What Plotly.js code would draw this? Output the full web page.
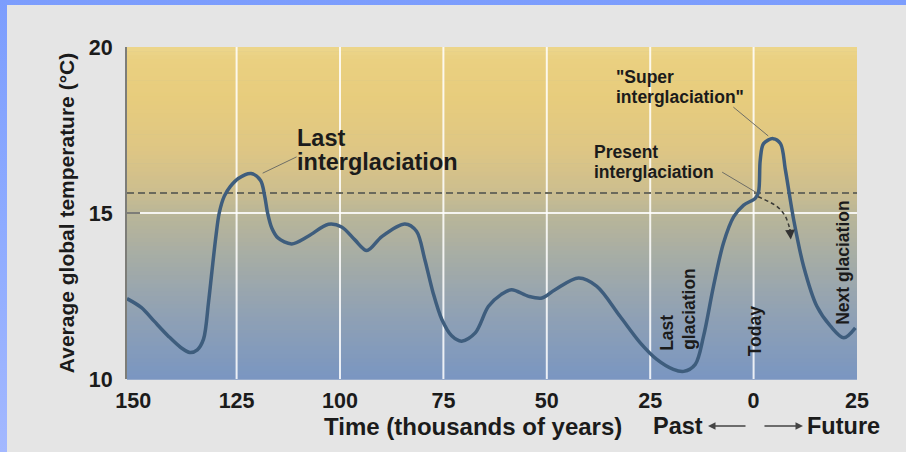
<!DOCTYPE html>
<html>
<head>
<meta charset="utf-8">
<script src="https://cdn.plot.ly/plotly-3.0.1.min.js"></script>
<style>
  html, body { margin: 0; padding: 0; }
  body { width: 906px; height: 452px; position: relative; overflow: hidden;
         background: linear-gradient(to bottom, #7c9dfd 0%, #8eabff 50%, #a3b8ff 100%); }
  #chart { position: absolute; left: 7px; top: 5px; width: 899px; height: 447px; background: #e5e5e5; }
</style>
</head>
<body>
<div id="chart"></div>
<script>
// ---- data (time in thousands of years; negative = past, positive = future) ----
const time = [-151.5, -148, -145, -141.5, -138.5, -136.3, -134.5, -133, -131.8, -131, -130, -129.2, -128, -126.5,
  -124.6, -121.5, -119.2, -118.2, -117.5, -116.5, -115, -111.7, -107.7, -102.8, -99.6, -96.4, -93.5, -89.9,
  -84.3, -81.5, -79.5, -77.5, -75.4, -73, -70.6, -67.3, -64.1, -61, -58.5, -54.4, -51.2, -48, -42.3, -37.9,
  -32.3, -27.4, -23.4, -19.4, -16.9, -14.1, -12.1, -9.7, -7.3, -4.8, -2.4, 0.4, 1.2, 1.6, 2.4, 4.7, 6.5, 7.7,
  9.7, 12.1, 15.3, 18.6, 21.8, 24.6];
const temp = [12.42, 12.15, 11.75, 11.29, 10.95, 10.8, 10.88, 11.2, 12.3, 13.2, 14.3, 15.0, 15.5, 15.8,
  16.04, 16.19, 15.98, 15.5, 15.0, 14.55, 14.25, 14.07, 14.3, 14.66, 14.58, 14.19, 13.87, 14.29,
  14.67, 14.45, 13.6, 12.6, 11.8, 11.3, 11.14, 11.39, 12.19, 12.55, 12.69, 12.49, 12.44, 12.69, 13.04, 12.79,
  11.89, 11.09, 10.59, 10.29, 10.23, 10.44, 11.29, 12.79, 14.09, 14.89, 15.24, 15.44, 15.64, 16.59, 17.09, 17.24, 17.09, 16.29,
  14.79, 13.39, 12.19, 11.59, 11.24, 11.54];
// projected path for the present interglaciation (dashed arrow)
const projTime = [1.1, 5.7, 7.7, 8.9];
const projTemp = [15.49, 15.19, 14.89, 14.45];
const refTemp = 15.6;            // dashed reference level
const tickVals = [-150, -125, -100, -75, -50, -25, 0, 25];
const tickText = ["150", "125", "100", "75", "50", "25", "0", "25"];
const gridTimes = [-125, -100, -75, -50, -25, 0];
const yTicks = [10, 15, 20];

const FONT = "Liberation Sans, Arial, Helvetica, sans-serif";
const INK = "#1b1b1b";

// ---- background gradient (yellow top -> blue bottom) built as thin bands ----
const stops = [
  [0.00, [236, 214, 140]], [0.04, [234, 208, 128]], [0.16, [231, 204, 125]], [0.31, [222, 198, 132]], [0.43, [205, 190, 142]],
  [0.50, [186, 182, 152]], [0.64, [165, 172, 166]], [0.82, [142, 160, 181]], [1.00, [122, 150, 193]]
];
function colAt(f) {
  for (let i = 0; i < stops.length - 1; i++) {
    const [f0, c0] = stops[i], [f1, c1] = stops[i + 1];
    if (f >= f0 && f <= f1) {
      const t = (f - f0) / (f1 - f0);
      return "rgb(" + c0.map((v, k) => Math.round(v + (c1[k] - v) * t)).join(",") + ")";
    }
  }
  return "rgb(122,150,193)";
}
const shapes = [];
const N = 80;
for (let i = 0; i < N; i++) {
  const fTop = i / N, fBot = (i + 1) / N;
  shapes.push({type: "rect", xref: "x domain", yref: "y domain", x0: 0, x1: 1,
    y0: 1 - fBot - 0.002, y1: 1 - fTop, line: {width: 0}, fillcolor: colAt((fTop + fBot) / 2), layer: "below"});
}
gridTimes.forEach(t => shapes.push({type: "line", xref: "x", yref: "y domain", x0: t, x1: t, y0: 0, y1: 1,
  line: {color: "rgba(255,255,255,0.85)", width: 2}, layer: "below"}));
shapes.push({type: "line", xref: "x domain", yref: "y", x0: 0, x1: 1, y0: 15, y1: 15,
  line: {color: "rgba(255,255,255,0.85)", width: 2}, layer: "below"});
shapes.push({type: "line", xref: "x domain", yref: "y", x0: 0, x1: 1, y0: refTemp, y1: refTemp,
  line: {color: "#6b6a5c", width: 2, dash: "7px,4px"}, layer: "below"});
// leader lines
const leader = (x0, y0, x1, y1) => shapes.push({type: "line", xref: "x", yref: "y", x0, y0, x1, y1,
  line: {color: "#6e6e66", width: 1}, layer: "above"});
leader(-110.5, 16.69, -118.7, 16.2);
leader(-4.9, 18.19, 3.55, 17.32);
leader(-7.6, 16.23, 0.9, 15.6);

const txt = (text, x, y, size, opts) => Object.assign({text, x, y, xref: "x", yref: "y", showarrow: false,
  font: {family: FONT, size, color: INK, weight: 700}, xanchor: "left", yanchor: "middle"}, opts || {});

const annotations = [
  txt("Last", -111.0, 17.27, 23.5),
  txt("interglaciation", -111.0, 16.55, 23.5),
  txt("\"Super", -33.7, 19.1, 17.5),
  txt("interglaciation\"", -33.7, 18.5, 17.5),
  txt("Present", -39.0, 16.85, 17.5),
  txt("interglaciation", -39.0, 16.25, 17.5),
  txt("Last", -21.1, 11.40, 17.5, {textangle: -90, xanchor: "center"}),
  txt("glaciation", -15.8, 12.12, 17.5, {textangle: -90, xanchor: "center"}),
  txt("Today", 0.2, 11.45, 17.5, {textangle: -90, xanchor: "center"}),
  txt("Next glaciation", 21.7, 13.51, 17.5, {textangle: -90, xanchor: "center"}),
  // arrowhead of the projected path
  {x: 9.0, y: 14.2, xref: "x", yref: "y", text: "", showarrow: true, ax: -1, ay: -12,
   arrowhead: 2, arrowsize: 1.3, arrowwidth: 1.5, arrowcolor: "#333", standoff: 0},
  // x-axis title (offset left of centre, as in the original)
  {text: "Time (thousands of years)", x: 0.4733, y: -0.1416, xref: "paper", yref: "paper", showarrow: false,
   xanchor: "center", yanchor: "middle", font: {family: FONT, size: 24, color: INK, weight: 700}},
  // Past / Future
  {text: "Past", x: 0.7918, y: -0.1416, xref: "paper", yref: "paper", showarrow: false, xanchor: "right", yanchor: "middle",
   font: {family: FONT, size: 23.5, color: INK, weight: 700}},
  {text: "Future", x: 0.9288, y: -0.1416, xref: "paper", yref: "paper", showarrow: false, xanchor: "left", yanchor: "middle",
   font: {family: FONT, size: 23.5, color: INK, weight: 700}},
  {text: "", x: 0.7959, y: -0.1416, xref: "paper", yref: "paper", showarrow: true, ax: 39, ay: 0,
   arrowhead: 2, arrowsize: 1, arrowwidth: 1.5, arrowcolor: "#444", standoff: 0},
  {text: "", x: 0.926, y: -0.1416, xref: "paper", yref: "paper", showarrow: true, ax: -40, ay: 0,
   arrowhead: 2, arrowsize: 1, arrowwidth: 1.5, arrowcolor: "#444", standoff: 0}
];

const traces = [
  {x: time, y: temp, type: "scatter", mode: "lines", line: {color: "#3e5d7d", width: 3.5, shape: "spline", smoothing: 0.9},
   hoverinfo: "x+y", showlegend: false},
  {x: projTime, y: projTemp, type: "scatter", mode: "lines", line: {color: "#3a3a36", width: 1.5, dash: "4px,3px", shape: "spline"},
   hoverinfo: "skip", showlegend: false}
];

const layout = {
  width: 899, height: 447,
  margin: {l: 120, r: 49, t: 42, b: 73, pad: 0},
  paper_bgcolor: "#e5e5e5", plot_bgcolor: "#a8aeb0",
  showlegend: false,
  font: {family: FONT, color: INK},
  xaxis: {
    range: [-151.5, 25], tickvals: tickVals, ticktext: tickText, showgrid: false, zeroline: false,
    showline: false, ticks: "", ticklabelstandoff: 6,
    tickfont: {family: FONT, size: 21.5, color: INK, weight: 700}
  },
  yaxis: {
    range: [10, 20], tickvals: yTicks, showgrid: false, zeroline: false,
    showline: true, linecolor: "#7d7d78", linewidth: 2, ticks: "inside", ticklen: 13, tickwidth: 2, tickcolor: "#7d7d78",
    ticklabelstandoff: 8,
    tickfont: {family: FONT, size: 21.5, color: INK, weight: 700},
    title: {text: "Average global temperature (°C)", font: {family: FONT, size: 21, color: INK, weight: 700}, standoff: 8}
  },
  shapes, annotations
};

Plotly.newPlot("chart", traces, layout, {displayModeBar: false, staticPlot: true});
</script>
</body>
</html>
